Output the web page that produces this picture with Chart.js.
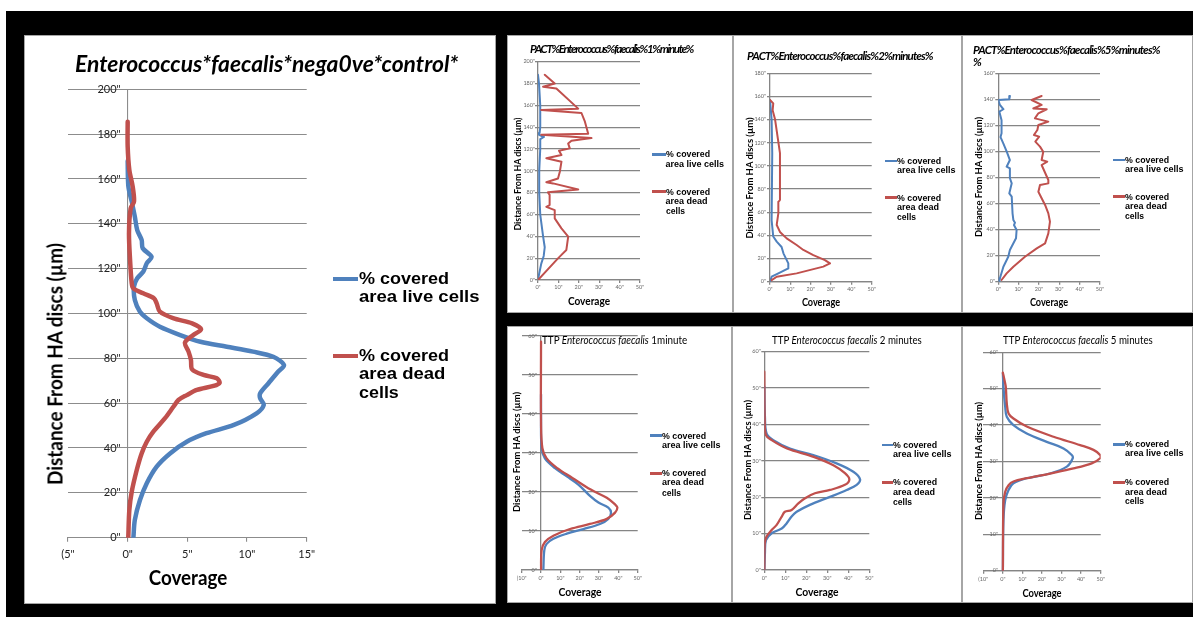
<!DOCTYPE html>
<html><head><meta charset="utf-8">
<script src="https://cdn.jsdelivr.net/npm/chart.js@4.4.1/dist/chart.umd.min.js"></script>
<style>
html,body{margin:0;padding:0;background:#fff;overflow:hidden;}
#stage{position:relative;width:1193px;height:617px;overflow:hidden;background:#fff;}
.blk{position:absolute;left:6px;top:11px;width:1187px;height:606px;background:#000;}
.panel{position:absolute;background:#fff;box-sizing:border-box;border:1px solid #a6a6a6;}
canvas{position:absolute;}
.t{position:absolute;white-space:nowrap;line-height:1;color:#000;}
.sw{position:absolute;}
</style></head>
<body><div id="stage"><div class="blk"></div></div>
<script>
// ---------------- DATA (distance from HA discs in µm, coverage in %) ----------------
const seriesNames = ['% covered area live cells', '% covered area dead cells'];
const legendLive = ['% covered', 'area live cells'];
const legendDead = ['% covered', 'area dead', 'cells'];

// Negative control
const ctrlLiveDistance = [168,156.6,149.9,143.2,137.2,132.8,129.1,125.3,122.4,118.6,115.7,112,106,100.8,97.9,94.1,90.4,87.4,85.2,83,80.7,77,74,68.9,64.4,62.2,59.2,55.5,50.3,46.6,42.8,37.6,31.7,24.3,16.8,7.9,0];
const ctrlLiveCoverage = [0,0.06,0.34,0.6,0.8,1.17,1.26,2.0,1.6,1.3,0.8,0.53,0.6,1.03,1.6,2.7,4.4,6.1,8.3,10.5,12.2,13.1,12.6,11.8,11.1,11.1,11.4,10.8,8.9,6.6,4.95,3.55,2.43,1.6,1.03,0.6,0.48];
const ctrlDeadDistance = [185.5,174.4,164,156.6,149.9,146.9,135.8,123.9,113.5,111.2,109,106.8,104.5,100.8,97.9,95.6,93,90.4,87,83,79.3,75.1,72.6,71.1,69.1,67.7,65.9,63.6,61.4,58.4,53.3,47.3,42.8,37.6,30.2,20.5,12.4,0];
const ctrlDeadCoverage = [0,0,0.14,0.42,0.53,0.25,0.11,0.2,0.34,0.48,1.3,2.2,2.43,2.7,3.8,5.4,6.15,5.5,4.8,5.1,5.3,5.4,6.35,7.47,7.7,7.2,5.8,4.95,4.25,3.83,3.13,2.15,1.6,1.17,0.76,0.34,0.14,0.05];

// PACT 1 minute
const pact1LiveDistance = [188,180,160,140,135,133,131,129,120,100,80,60,40,30,22,15,5,0];
const pact1LiveCoverage = [0,0.5,1.1,1.1,0.8,0.5,2.9,1.1,1.1,0.6,0.6,1.1,2.5,3.3,2.8,1.6,0.5,0];
const pact1DeadDistance = [188,180,177,175.5,157,155.7,153,145,134,133,130,127.5,125,120.6,118.5,114.5,111.5,108.4,99.2,93,89.5,88.5,83,80.3,78,68.7,67,64,56.5,47.3,43.7,39.7,27.5,23,19.8,0];
const pact1DeadCoverage = [3.3,8.2,2.5,9,19.7,1.6,21.3,23,24.6,1.6,26.2,16.4,14.8,15.6,10.3,11.5,4.1,11.5,10.7,9.8,4.1,7.4,19.7,4.9,5.7,5.7,4.1,8.2,8.2,11.5,13.1,14.8,13.9,11.5,9.8,0];

// PACT 2 minutes
const pact2LiveDistance = [157,140,111,53,39,34.6,30,24.5,15.8,11.5,7.2,4.3,0];
const pact2LiveCoverage = [0,0.8,1.1,0.8,1.6,3.3,5.7,6.6,9,9,4.1,0.8,0];
const pact2DeadDistance = [157,154,148,140,111,70.5,69,59,49,43,37.4,31.7,27.4,23,18.7,15.8,13,7.2,4.3,1.4];
const pact2DeadCoverage = [0,1.6,1.3,2.5,4.9,4.9,4.1,4.1,3.3,4.9,8.2,13.1,16.4,21.3,27,29.5,26.2,13.1,3.3,0.8];

// PACT 5 minutes
const pact5LiveDistance = [142.6,140,139.5,135.7,132.4,130.6,124,114,111,106,100,93.4,88.3,87,79.4,75.5,67.8,65.3,52.5,47.4,45.3,43.5,39.7,33.3,24.3,19.2,11.5,2.6,0];
const pact5LiveCoverage = [5.7,5.4,0,0.8,2.5,0.5,1.6,1.6,1.1,2.5,4.1,5.7,4.1,5.7,5.7,6.6,5.4,6.6,7,7.4,8.2,7.7,9,8.7,5.7,4.9,2.5,0.8,0.5];
const pact5DeadDistance = [142.6,139.5,135.7,133,132.4,129.3,125.4,122.9,120.3,116.5,112.6,111.4,107.5,103.7,99.8,93.4,92.2,89.6,78.1,75.5,74.2,69.1,66.6,58.9,52.5,46.1,37.1,29.4,25.6,19.2,11.5,6.4,1.3];
const pact5DeadCoverage = [21.3,16.4,21.3,17.2,23.8,19.7,18,24.6,19.7,19.2,17.5,20.1,18.2,20.5,22.1,21.3,24.1,21.3,24.6,24.6,20.5,19.7,20.5,23,24.6,25.4,24.6,23,18.9,13.1,7.4,4.1,1.6];

// TTP 1 minute
const ttp1LiveDistance = [45,39.6,31.2,28.6,26.1,24,21.9,19,17.3,16,14.7,13.1,11.8,10.5,9.3,8,6.7,5.1,0];
const ttp1LiveCoverage = [0,0,0.3,2,7.2,13.3,19.3,25.3,29.7,34.8,36.2,34.8,30.5,21.9,13.3,6.4,2.9,1.7,1.2];
const ttp1DeadDistance = [58.5,37.9,31.2,28.6,26.1,23.6,20.6,18.5,16.8,16,14.7,13.1,11.8,10.5,8.8,7.2,5.1,0];
const ttp1DeadCoverage = [0,0,0.7,2.9,8.4,16.2,25.7,34,38.3,39.5,38.3,34,25.3,15,6.4,2,0.3,0];

// TTP 2 minutes
const ttp2LiveDistance = [50.4,42.1,37.5,35.7,33.4,31.6,29.3,27,24.9,23.4,22,20.1,17.9,16,14.7,12.8,11.4,10.1,8.2,4.6,0];
const ttp2LiveCoverage = [0,0.3,1.1,4.3,12.2,23.3,34.4,42.4,45.6,44,39.2,31.3,21.7,15.4,13,10.6,8.3,3.5,0.8,0.3,0];
const ttp2DeadDistance = [54.5,41.2,37.1,35.7,33.4,31.1,28.8,26.6,24.9,23.4,22,21.1,19.7,18.3,16.5,16,14.7,12.4,11,9.2,7.3,0];
const ttp2DeadCoverage = [0,0.2,0.8,3.5,10.8,23.5,32.9,38.4,40.5,38.4,31.3,24.1,19.4,16.2,13,9.8,8.3,5.9,3.5,1.1,0.2,0];

// TTP 5 minutes
const ttp5LiveDistance = [54.2,50.5,45,42.3,40,37.7,35.4,33.6,31.8,30.9,28.6,26.7,25.4,24,22.2,19.4,13.9,0];
const ttp5LiveCoverage = [0,0.3,1.2,2,5.4,12.2,22.4,31,35.2,35.7,32.7,24.1,12.2,5.4,2.9,1.2,0.3,0];
const ttp5DeadDistance = [54.4,52.2,50.5,46,43.2,41.8,39.6,36.8,34.5,33.2,31.8,30.9,29.5,28.1,26.7,25.4,24.5,23.5,21.7,18.5,0];
const ttp5DeadCoverage = [0,0.9,1.5,2,2.9,5.4,12.2,25.9,39.5,46.3,49.7,49.7,45.4,36.1,24.1,12.2,5.4,2.9,1.2,0.3,0];

// Tick labels
const ctrlXTicks = ['(5"','0"','5"','10"','15"'];
const ctrlYTicks = ['0"','20"','40"','60"','80"','100"','120"','140"','160"','180"','200"'];
const pactXTicks = ['0"','10"','20"','30"','40"','50"'];
const pact1YTicks = ['0"','20"','40"','60"','80"','100"','120"','140"','160"','180"','200"'];
const pact2YTicks = ['0"','20"','40"','60"','80"','100"','120"','140"','160"','180"'];
const pact5YTicks = ['0"','20"','40"','60"','80"','100"','120"','140"','160"'];
const ttpXTicksNeg = ['(10"','0"','10"','20"','30"','40"','50"'];
const ttpXTicks = ['0"','10"','20"','30"','40"','50"'];
const ttpYTicks = ['0"','10"','20"','30"','40"','50"','60"'];

// Titles
const ctrlTitle = 'Enterococcus*faecalis*nega0ve*control*';
const pact1Title = 'PACT%Enterococcus%faecalis%1%minute%';
const pact2Title = 'PACT%Enterococcus%faecalis%2%minutes%';
const pact5Title = 'PACT%Enterococcus%faecalis%5%minutes%';
const ttpSpecies = 'Enterococcus faecalis';
const yAxisTitle = 'Distance From HA discs (µm)';
const xAxisTitle = 'Coverage';

// ---------------- RENDERING ----------------
const BLUE = '#4F81BD', RED = '#C0504D';
const stage = document.getElementById('stage');
const mctx = document.createElement('canvas').getContext('2d');
function pts(d, c) { return d.map((v, i) => ({x: c[i], y: v})); }
function widest(font, labels) { mctx.font = font; return Math.max(...labels.map(l => mctx.measureText(l).width)); }

function addPanel(b) {
  const d = document.createElement('div'); d.className = 'panel';
  d.style.left = b[0] + 'px'; d.style.top = b[1] + 'px';
  d.style.width = b[2] + 'px'; d.style.height = b[3] + 'px';
  stage.appendChild(d);
}

function addText(html, x, y, w, font, mode) {
  const d = document.createElement('div'); d.className = 't';
  d.style.font = font; d.innerHTML = html;
  stage.appendChild(d);
  const nat = d.offsetWidth || 1;
  d.style.left = x + 'px'; d.style.top = y + 'px';
  if (mode === 'ls') {
    // fit width by letter spacing (glyphs overlap like the original export)
    const n = d.textContent.length;
    d.style.letterSpacing = ((w - nat) / n) + 'px';
    d.style.transform = 'translateY(-50%)';
    return;
  }
  const s = w ? w / nat : 1;
  if (mode === 'rot') d.style.transform = `translate(-50%,-50%) rotate(-90deg) scaleX(${s})`;
  else if (mode === 'center') d.style.transform = `translate(-50%,-50%) scaleX(${s})`;
  else { d.style.transformOrigin = '0 50%'; d.style.transform = `translateY(-50%) scaleX(${s})`; }
}

function addSwatch(x0, x1, y, h, col) {
  const d = document.createElement('div'); d.className = 'sw';
  d.style.left = x0 + 'px'; d.style.width = (x1 - x0) + 'px';
  d.style.top = (y - h / 2) + 'px'; d.style.height = h + 'px'; d.style.background = col;
  stage.appendChild(d);
}

function makeChart(p) {
  const [bx, by, bw, bh] = p.box;
  addPanel(p.box);
  const cv = document.createElement('canvas');
  cv.width = bw; cv.height = bh;
  cv.style.left = bx + 'px'; cv.style.top = by + 'px';
  cv.style.width = bw + 'px'; cv.style.height = bh + 'px';
  stage.appendChild(cv);
  const [al, at, ar, ab] = p.area;
  const XH = p.xh;
  const pad = {left: al - bx, top: at - by, right: bx + bw - ar, bottom: by + bh - ab - XH};
  const tickFont = {family: 'Lato', size: p.tf};
  const wide = widest(p.tf + 'px Lato', p.yl);
  const ypad = (p.yRight - al) - wide;
  new Chart(cv, {
    type: 'line',
    data: {datasets: [
      {label: seriesNames[0], data: pts(p.live[0], p.live[1]), borderColor: BLUE, backgroundColor: BLUE,
       borderWidth: p.lw, pointRadius: 0, tension: p.ten, fill: false, order: 1, borderJoinStyle: 'round', borderCapStyle: 'round'},
      {label: seriesNames[1], data: pts(p.dead[0], p.dead[1]), borderColor: RED, backgroundColor: RED,
       borderWidth: p.lw, pointRadius: 0, tension: p.ten, fill: false, order: 0, borderJoinStyle: 'round', borderCapStyle: 'round'}
    ]},
    options: {
      responsive: false, animation: false, events: [], devicePixelRatio: 1,
      layout: {padding: pad},
      plugins: {legend: {display: false}, tooltip: {enabled: false}, title: {display: false}},
      scales: {
        x: {type: 'linear', min: p.xr[0], max: p.xr[1], afterFit: s => { s.height = XH; },
            ticks: {stepSize: p.xr[2], autoSkip: false, maxRotation: 0, minRotation: 0, padding: p.xpad, font: tickFont, color: p.tc,
                    callback: (v, i) => p.xl[i]},
            grid: {color: c => (c.tick && c.tick.value === 0) ? p.gc : 'rgba(0,0,0,0)', lineWidth: p.gw,
                   drawTicks: true, tickLength: p.xtl, tickColor: p.gc, tickWidth: p.gw},
            border: {display: true, color: p.gc, width: p.gw}},
        y: {type: 'linear', min: 0, max: p.yr[0], afterFit: s => { s.width = 0; },
            ticks: {stepSize: p.yr[1], autoSkip: false, mirror: true, crossAlign: 'far', padding: ypad,
                    font: tickFont, color: p.tc, callback: (v, i) => p.yl[i]},
            grid: {color: p.gc, lineWidth: p.gw, drawTicks: p.ytl > 0, tickLength: p.ytl || 0, tickColor: p.gc},
            border: {display: false}}
      }
    }
  });
}

const SMALL = {lw: 2, ten: 0, gc: '#858585', gw: 1.3, tf: 5.5, tc: '#666', xtl: 3, xpad: 1, xh: 14};
const TTPS = Object.assign({}, SMALL, {lw: 2.3, ten: 0.35, xpad: 2});

// Main panel
makeChart({box: [24, 35, 472, 569], area: [68, 89.3, 306.7, 537.7], xr: [-5, 15, 5], yr: [200, 20],
  xl: ctrlXTicks, yl: ctrlYTicks, live: [ctrlLiveDistance, ctrlLiveCoverage], dead: [ctrlDeadDistance, ctrlDeadCoverage],
  lw: 4.5, ten: 0.3, gc: '#8c8c8c', gw: 1.1, tf: 11, tc: '#222', xtl: 4, xpad: 6, xh: 26, ytl: 0, yRight: 120.7});
// PACT
makeChart(Object.assign({}, SMALL, {box: [507, 35, 226, 278], area: [538, 61.7, 640, 280], xr: [0, 50, 10], yr: [200, 20],
  xl: pactXTicks, yl: pact1YTicks, live: [pact1LiveDistance, pact1LiveCoverage], dead: [pact1DeadDistance, pact1DeadCoverage], ytl: 3, yRight: 535}));
makeChart(Object.assign({}, SMALL, {box: [733, 35, 229, 278], area: [770, 73.3, 871.7, 281.7], xr: [0, 50, 10], yr: [180, 20],
  xl: pactXTicks, yl: pact2YTicks, live: [pact2LiveDistance, pact2LiveCoverage], dead: [pact2DeadDistance, pact2DeadCoverage], ytl: 3, yRight: 766}));
makeChart(Object.assign({}, SMALL, {box: [962, 35, 231, 278], area: [998.3, 73.3, 1100, 281.7], xr: [0, 50, 10], yr: [160, 20],
  xl: pactXTicks, yl: pact5YTicks, live: [pact5LiveDistance, pact5LiveCoverage], dead: [pact5DeadDistance, pact5DeadCoverage], ytl: 3, yRight: 995}));
// TTP
makeChart(Object.assign({}, TTPS, {box: [507, 326, 225, 277], area: [521.7, 332.7, 637.7, 570], xr: [-10, 50, 10], yr: [60, 10],
  xl: ttpXTicksNeg, yl: ttpYTicks, live: [ttp1LiveDistance, ttp1LiveCoverage], dead: [ttp1DeadDistance, ttp1DeadCoverage], ytl: 0, yRight: 536.7}));
makeChart(Object.assign({}, TTPS, {box: [732, 326, 230, 277], area: [764.3, 351.7, 869.3, 570], xr: [0, 50, 10], yr: [60, 10],
  xl: ttpXTicks, yl: ttpYTicks, live: [ttp2LiveDistance, ttp2LiveCoverage], dead: [ttp2DeadDistance, ttp2DeadCoverage], ytl: 3, yRight: 760.7}));
makeChart(Object.assign({}, TTPS, {box: [962, 326, 231, 277], area: [983.3, 352.3, 1100.7, 570.7], xr: [-10, 50, 10], yr: [60, 10],
  xl: ttpXTicksNeg, yl: ttpYTicks, live: [ttp5LiveDistance, ttp5LiveCoverage], dead: [ttp5DeadDistance, ttp5DeadCoverage], ytl: 0, yRight: 998}));

// ---- Text: main panel
addText(ctrlTitle, 75, 63, 383, 'italic bold 23px Lato');
addText(yAxisTitle, 54, 364, 242, 'bold 21px Lato', 'rot');
addText(xAxisTitle, 187.5, 577, 79, 'bold 20px Lato', 'center');
addSwatch(333, 358, 279, 4.5, BLUE);
addSwatch(333, 358, 356, 4.5, RED);
const LF = 'bold 17px "Liberation Sans"';
addText(legendLive[0], 359, 278.5, 90, LF);
addText(legendLive[1], 359, 296.5, 121, LF);
addText(legendDead[0], 359, 356, 90, LF);
addText(legendDead[1], 359, 374, 86, LF);
addText(legendDead[2], 359, 393, 40, LF);

// ---- Text: small panels
const TF = 'italic bold 11.5px Lato';
addText(pact1Title, 530, 48, 163, TF, 'ls');
addText(pact2Title, 747, 54.5, 186, TF, 'ls');
addText(pact5Title, 973, 48.5, 187, TF, 'ls');
addText('%', 973, 60.5, 0, TF);
const TTF = '11px Lato';
addText('TTP <i>' + ttpSpecies + '</i> 1minute', 542, 338.7, 145, TTF);
addText('TTP <i>' + ttpSpecies + '</i> 2 minutes', 772, 338.7, 150, TTF);
addText('TTP <i>' + ttpSpecies + '</i> 5 minutes', 1003, 338.7, 150, TTF);

const CF = 'bold 12px Lato';
[[589, 300, 42], [821, 301, 38], [1049, 301, 38], [580, 591, 43], [816.5, 591, 43], [1042, 592, 39]]
  .forEach(a => addText(xAxisTitle, a[0], a[1], a[2], CF, 'center'));
const YF = 'bold 10px Lato';
[[517, 173.5, 113], [749, 177.5, 121], [978, 177, 120], [515.5, 452, 120], [747, 460, 120], [978, 461, 118]]
  .forEach(a => addText(yAxisTitle, a[0], a[1], a[2], YF, 'rot'));

const SLF = 'bold 9px "Liberation Sans"';
const smallLegends = [
  {sw: [652, 665.5], tx: 665.5, ys: [154.3, 164, 191.7, 201, 210.7]},
  {sw: [885, 897], tx: 897, ys: [161, 170, 197.7, 207.3, 216.7]},
  {sw: [1113, 1125], tx: 1125, ys: [160, 169.3, 196.7, 206, 216]},
  {sw: [650, 662], tx: 662, ys: [435.7, 445, 473.3, 482.3, 492.7]},
  {sw: [882, 893], tx: 893, ys: [445, 454, 482.3, 491.7, 501.7]},
  {sw: [1113, 1125], tx: 1125, ys: [444.3, 453.3, 482.3, 491.7, 501]}
];
smallLegends.forEach(L => {
  addSwatch(L.sw[0], L.sw[1], L.ys[0], 2.5, BLUE);
  addSwatch(L.sw[0], L.sw[1], L.ys[2], 2.5, RED);
  addText(legendLive[0], L.tx, L.ys[0], 44, SLF);
  addText(legendLive[1], L.tx, L.ys[1], 59, SLF);
  addText(legendDead[0], L.tx, L.ys[2], 44, SLF);
  addText(legendDead[1], L.tx, L.ys[3], 42, SLF);
  addText(legendDead[2], L.tx, L.ys[4], 19, SLF);
});
</script>
</body></html>
